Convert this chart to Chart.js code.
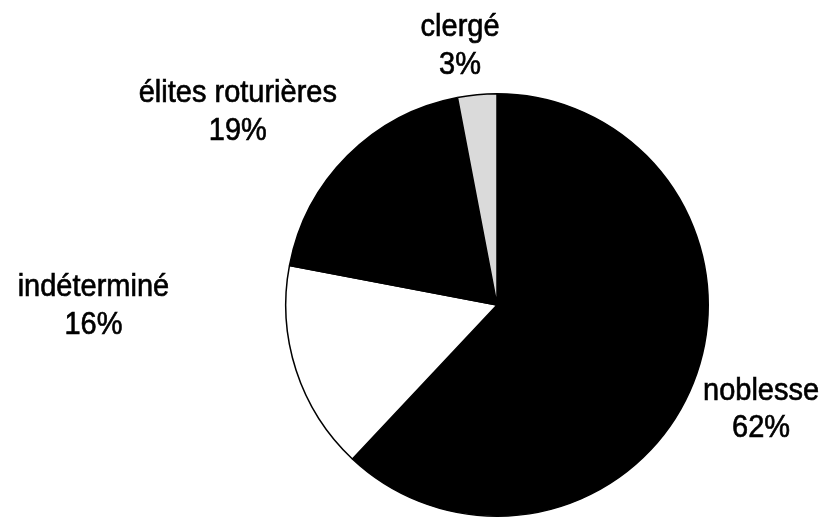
<!DOCTYPE html>
<html>
<head>
<meta charset="utf-8">
<script src="https://cdn.jsdelivr.net/npm/chart.js@4"></script>
<style>
	html, body { margin: 0; padding: 0; background: #fff; overflow: hidden; }
</style>
</head>
<body>
<canvas id="pie" width="825" height="540"></canvas>
<script>
// Data
const categories = ["noblesse", "indéterminé", "élites roturières", "clergé"];
const shares = [62, 16, 19, 3];
const sliceColors = ["#000000", "#ffffff", "#000000", "#dadada"];

// where each label block sits: angle clockwise from top (deg), distance in radii
const labelPlacement = [
	{ angle: 113.3, dist: 1.361 },
	{ angle: 268.6, dist: 1.911 },
	{ angle: 305.4, dist: 1.505 },
	{ angle: 351.6, dist: 1.197 },
];

const outsideLabels = {
	id: "outsideLabels",
	afterDraw(chart, args, opts) {
		const ctx = chart.ctx;
		const arcs = chart.getDatasetMeta(0).data;
		ctx.save();
		ctx.fillStyle = "#000";
		ctx.strokeStyle = "#000";
		ctx.lineWidth = 0.6;
		ctx.font = "29px 'Liberation Sans', Arial, sans-serif";
		ctx.textAlign = "center";
		ctx.textBaseline = "alphabetic";
		arcs.forEach((arc, i) => {
			const p = opts.placement[i];
			const a = (p.angle - 90) * Math.PI / 180;
			const cx = arc.x + Math.cos(a) * arc.outerRadius * p.dist;
			const cy = arc.y + Math.sin(a) * arc.outerRadius * p.dist;
			const lines = [chart.data.labels[i], shares[i] + "%"];
			ctx.save();
			ctx.translate(cx, cy);
			ctx.scale(1, 1.1);
			ctx.fillText(lines[0], 0, -17);
			ctx.strokeText(lines[0], 0, -17);
			ctx.fillText(lines[1], 0, 17);
			ctx.strokeText(lines[1], 0, 17);
			ctx.restore();
		});
		ctx.restore();
	},
};

new Chart(document.getElementById("pie"), {
	type: "pie",
	data: {
		labels: categories,
		datasets: [
			{
				data: shares,
				backgroundColor: sliceColors,
				borderColor: "#000",
				borderWidth: 1.5,
			},
		],
	},
	options: {
		responsive: false,
		animation: false,
		layout: {
			padding: { left: 285, right: 116, top: 93, bottom: 23 },
		},
		plugins: {
			legend: { display: false },
			tooltip: { enabled: false },
			outsideLabels: { placement: labelPlacement },
		},
	},
	plugins: [outsideLabels],
});
</script>
</body>
</html>
